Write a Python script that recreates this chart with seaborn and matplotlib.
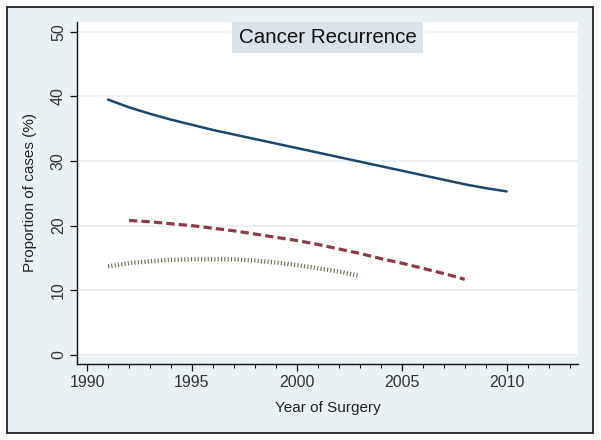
import matplotlib
matplotlib.use("Agg")
import matplotlib.pyplot as plt
import seaborn as sns
import pandas as pd
from matplotlib.patches import Rectangle
from matplotlib.ticker import MultipleLocator

# --- data ---
years_blue = list(range(1991, 2011))
blue = [39.5, 38.3, 37.3, 36.4, 35.6, 34.8, 34.1, 33.4, 32.7, 32.0,
        31.3, 30.6, 29.9, 29.2, 28.5, 27.8, 27.1, 26.4, 25.8, 25.3]

years_red = list(range(1992, 2009))
red = [20.8, 20.6, 20.3, 20.0, 19.6, 19.2, 18.7, 18.2, 17.7, 17.1,
       16.4, 15.7, 14.9, 14.2, 13.4, 12.6, 11.7]

years_green = list(range(1991, 2004))
green = [13.7, 14.2, 14.5, 14.7, 14.8, 14.8, 14.8, 14.6, 14.3, 13.9,
         13.4, 12.9, 12.2]

x_ticks = [1990, 1995, 2000, 2005, 2010]
y_ticks = [0, 10, 20, 30, 40, 50]

sns.set_theme(style="white")
plt.rcParams['font.family'] = ['Liberation Sans', 'DejaVu Sans']

BG = "#eaf1f4"
W, H = 601, 440
fig = plt.figure(figsize=(W / 100, H / 100), dpi=100, facecolor="white")

# outer frame like a Stata graph region
frame = Rectangle((7 / W, 1 - 433 / H), 586 / W, 426 / H,
                  transform=fig.transFigure, facecolor=BG,
                  edgecolor="#222222", linewidth=1.3, zorder=-10)
fig.add_artist(frame)

ax = fig.add_axes([77 / W, 1 - 364 / H, (578 - 77) / W, (364 - 22) / H])
ax.set_zorder(1)
ax.set_facecolor(BG)
# white plot region sits slightly above the x axis line
ax.add_patch(Rectangle((0, 7 / 342), 1, 1 - 7 / 342, transform=ax.transAxes,
                       facecolor="white", edgecolor="none", zorder=0))

df_blue = pd.DataFrame({"year": years_blue, "pct": blue})
df_red = pd.DataFrame({"year": years_red, "pct": red})
df_green = pd.DataFrame({"year": years_green, "pct": green})

sns.lineplot(data=df_blue, x="year", y="pct", ax=ax, color="#1a476f", linewidth=1.8)
sns.lineplot(data=df_red, x="year", y="pct", ax=ax, color="#8c3a45", linewidth=2.3,
             linestyle=(0, (2.6, 1.3)))
sns.lineplot(data=df_green, x="year", y="pct", ax=ax, color="#66704c", linewidth=3.2,
             linestyle=(0, (0.25, 0.5)))

ax.set_xlim(1989.52, 2013.4)
ax.set_ylim(-1.4, 51.5)
ax.set_xticks(x_ticks)
ax.set_yticks(y_ticks)
ax.xaxis.set_minor_locator(MultipleLocator(1))
ax.grid(axis="y", color="#e6eef1", linewidth=1.2, zorder=0.5)
ax.set_axisbelow(True)

for s in ["top", "right"]:
    ax.spines[s].set_visible(False)
for s in ["left", "bottom"]:
    ax.spines[s].set_color("#111111")
    ax.spines[s].set_linewidth(1.0)

ax.tick_params(axis="both", which="major", direction="out", length=5, width=0.9,
               color="#111111", labelsize=11.5, labelcolor="#333333", pad=3,
               bottom=True, left=True)
ax.tick_params(axis="x", which="minor", direction="out", length=3, width=0.8,
               color="#111111", bottom=True)
for lab in ax.get_yticklabels():
    lab.set_rotation(90)
    lab.set_va("center")

ax.set_xlabel("Year of Surgery", fontsize=11, color="#222222", labelpad=8)
ax.set_ylabel("Proportion of cases (%)", fontsize=11, color="#222222", labelpad=10)

ax.text(0.5, 0.982, "Cancer Recurrence", transform=ax.transAxes, ha="center", va="top",
        fontsize=14.8, color="#111111",
        bbox=dict(boxstyle="square,pad=0.3", facecolor="#d9e3e9", edgecolor="none"))

fig.savefig("out.png", dpi=100, facecolor="white")
